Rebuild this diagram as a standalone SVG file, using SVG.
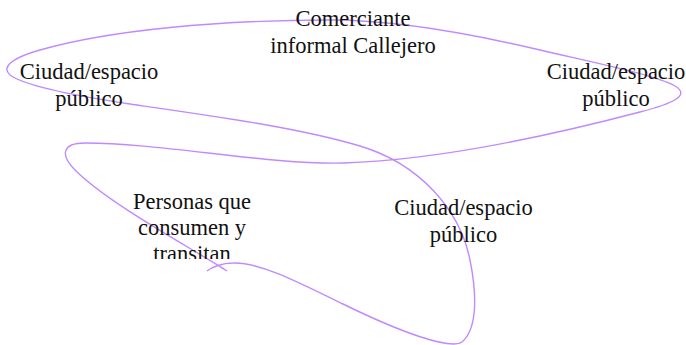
<svg xmlns="http://www.w3.org/2000/svg" width="686" height="345" viewBox="0 0 686 345">
<style>
.lbl{font-family:"Liberation Serif","Times New Roman",serif;font-size:22.5px;fill:#111;text-anchor:middle}
.edge{fill:none;stroke:#c08aff;stroke-width:1.4}
</style>
<defs>
<clipPath id="clipP"><rect x="0" y="0" width="686" height="259"/></clipPath>
</defs>
<rect width="686" height="345" fill="#fff"/>
<g id="connectors">
<path class="edge" d="M227,271 C195,250 110,205 75,170 C60,155 62,143 85,143 C160,143 270,165 343,163 C440,160 560,133 640,112 C675,103 690,95 675,86 C655,75 600,64 540,50 C460,31 390,20 330,20 C220,20 110,30 40,50 C15,57 0,66 10,75 C25,86 70,95 130,104 C220,117 300,128 360,146 C420,164 460,210 470,260 C478,300 476,330 462,342 C450,350 400,332 343,304 C300,283 260,262 233,263 C222,263 212,267 207,271"/>
</g>
<g id="n-comerciante">
<text class="lbl" x="353" y="26">Comerciante</text>
<text class="lbl" x="353" y="53">informal Callejero</text>
</g>
<g id="n-ciudad-left">
<text class="lbl" x="89" y="79">Ciudad/espacio</text>
<text class="lbl" x="89" y="106">público</text>
</g>
<g id="n-ciudad-right">
<text class="lbl" x="616" y="79">Ciudad/espacio</text>
<text class="lbl" x="616" y="106">público</text>
</g>
<g id="n-personas" clip-path="url(#clipP)">
<text class="lbl" x="192" y="209">Personas que</text>
<text class="lbl" x="192" y="235">consumen y</text>
<text class="lbl" x="192" y="261">transitan</text>
</g>
<g id="n-ciudad-bottom">
<text class="lbl" x="463.5" y="215">Ciudad/espacio</text>
<text class="lbl" x="463.5" y="242">público</text>
</g>
</svg>
